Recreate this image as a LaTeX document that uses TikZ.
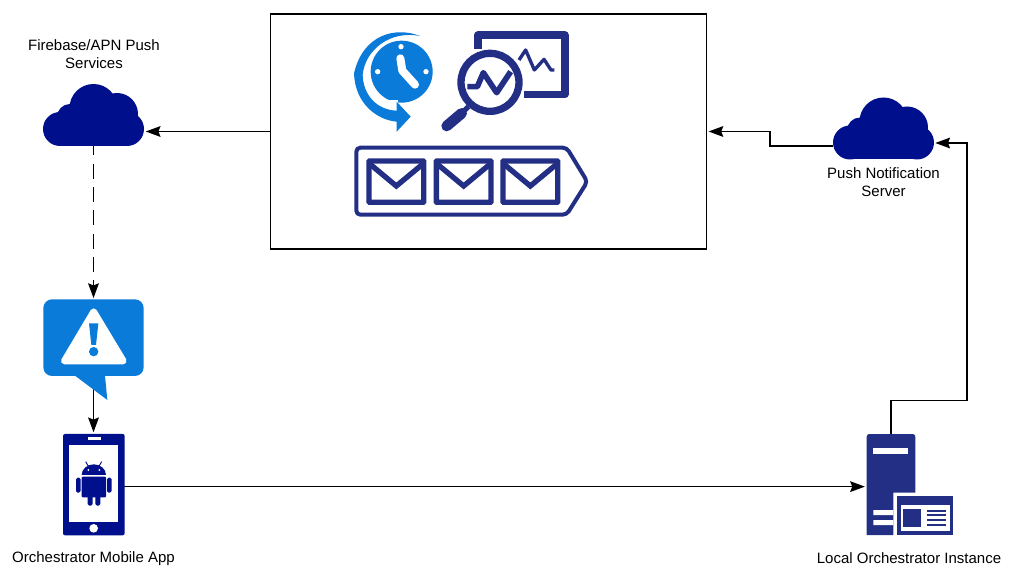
\documentclass[tikz,border=0pt]{standalone}
\usepackage{fontspec}
\setmainfont{Liberation Sans}
\usetikzlibrary{arrows.meta}
\definecolor{cloudblue}{HTML}{000F8C}
\definecolor{iconblue}{HTML}{232F85}
\definecolor{lightblue}{HTML}{0A7BD9}

\tikzset{
    flow/.style={-{Stealth[length=11pt,width=8pt,inset=1.5pt]},line width=1.2pt,shorten >=1pt},
    caption/.style={align=center,font=\fontsize{11.25}{13.5}\selectfont,inner sep=0pt},
    main node/.style={draw=none,inner sep=0pt},
    cloudicon/.pic={
        \fill[cloudblue] (-33.5,14) circle (17);
        \fill[cloudblue] (-23.5,2) circle (13);
        \fill[cloudblue] (0,-7) circle (24);
        \fill[cloudblue] (23.5,-1) circle (21);
        \fill[cloudblue] (33.5,14) circle (17);
        \fill[cloudblue] (-33.5,5) rectangle (33.5,31);
    }
}

\begin{document}
\begin{tikzpicture}[x=0.75pt,y=-0.75pt]
    \useasboundingbox (0,0) rectangle (1009,580);

    \node[draw,line width=1.1pt,minimum width=327pt,minimum height=176pt,inner sep=0pt] (queuebox) at (488.5,131.5) {};
    \node[main node,minimum width=76pt,minimum height=46.5pt] (fcm) at (93.5,115) {};
    \node[main node,minimum width=76pt,minimum height=46.5pt] (pushsrv) at (883.5,128.5) {};
    \node[main node,minimum width=76pt,minimum height=57.5pt] (alert) at (93.5,338) {};
    \node[main node,minimum width=46pt,minimum height=76pt] (phone) at (93.5,484.5) {};
    \node[main node,minimum width=36.5pt,minimum height=76pt] (server) at (890.8,484.5) {};

    \node[caption] (fcmlabel) at (94,54.5) {Firebase/APN Push\\Services};
    \node[caption] (pushlabel) at (883.5,182.5) {Push Notification\\Server};
    \node[caption] (phonelabel) at (93.5,558.5) {Orchestrator Mobile App};
    \node[caption] (serverlabel) at (909,558.5) {Local Orchestrator Instance};

    \coordinate (pushin) at (934,143);
    \coordinate (pushout) at (833,146);
    \coordinate (phoneout) at ([yshift=-1.6pt]phone.east);

    \draw[flow] (queuebox.west) -- (queuebox.west -| fcm.east);
    \draw[flow,dash pattern=on 11.25pt off 6.25pt,dash phase=4.5pt] (fcm.south) -- (alert.north);
    \draw[flow] (alert.south) -- (phone.north);
    \draw[flow] (phoneout) -- (phoneout -| server.west);
    \draw[flow] (server.north) -- ++(0,-33) -- ++(76,0) |- (pushin);
    \draw[flow] (pushout) -- ++(-63,0) |- (queuebox.east);

    \pic at (fcm) {cloudicon};
    \pic at (pushsrv) {cloudicon};

    % clock, chart and queue
    \begin{scope}[shift={(340,20)},scale=1/3]
        \fill[lightblue] (185,155) circle (93);
        \fill[white] (183,80) circle (8) (113,155) circle (8) (258,155) circle (8);
        \draw[white,line width=6pt,line cap=round,line join=round] (181,115) -- (187,152) -- (225,194);
        \fill[white] (120,262) -- (175,262) -- (175,240) -- (120,240) -- cycle;
        \fill[lightblue] (240,48) .. controls (170,20) and (70,40) .. (42,160)
            .. controls (45,250) and (110,300) .. (170,305) -- (170,335) -- (212,290) -- (170,245)
            -- (170,272) .. controls (110,270) and (70,225) .. (68,165)
            .. controls (75,90) and (150,30) .. (240,48) -- cycle;

        \draw[iconblue,line width=5.75pt,line join=round] (552,224) -- (674,224) -- (674,46) -- (413,46) -- (413,86);
        \draw[iconblue,line width=2.5pt,line join=round] (537,120) -- (557,90) -- (583,150) -- (612,118) -- (633,150) -- (643,150);
        \draw[iconblue,line width=5.5pt] (450,187) circle (87);
        \draw[iconblue,line width=4.25pt,line join=round] (382,200) -- (412,200) -- (430,158) -- (470,218) -- (512,155);
        \draw[iconblue,line width=3.75pt] (385,260) -- (365,280);
        \draw[iconblue,line width=8pt,line cap=round] (365,280) -- (320,318);

        \draw[iconblue,line width=3pt,rounded corners=3pt] (49,383) -- (680,383) -- (742,485) -- (680,584) -- (49,584) -- cycle;
        \foreach \envx in {79,281,481}{
            \draw[iconblue,line width=4pt,rounded corners=0.5pt] (\envx+8,423) rectangle (\envx+172,547);
            \draw[iconblue,line width=4pt] (\envx+8,430) -- (\envx+90,498) -- (\envx+172,430);
        }
    \end{scope}

    % alert bubble and phone
    \begin{scope}[shift={(20,280)},scale=1/3]
        \fill[lightblue,rounded corners=6.5pt] (70,58) rectangle (371,288);
        \fill[lightblue] (165,287) -- (262,360) -- (255,287) -- cycle;
        \filldraw[white,line width=5pt,line join=round] (221,95) -- (133,243) -- (310,243) -- cycle;
        \fill[lightblue] (207,130) -- (235,130) -- (228,195) -- (214,195) -- cycle;
        \fill[lightblue] (221,215) circle (14);

        \fill[cloudblue,rounded corners=1.5pt] (129,462) rectangle (314,766);
        \fill[white] (148,496) rectangle (294,725);
        \fill[white] (203,472) rectangle (243,480);
        \fill[white] (221,745) circle (13);
        \fill[cloudblue,rounded corners=0.8pt] (185,590) rectangle (258,652);
        \fill[cloudblue] (185,585) arc[start angle=180,end angle=0,x radius=36.5,y radius=-32] -- cycle;
        \fill[white] (205,570) circle (3) (238,570) circle (3);
        \draw[cloudblue,line width=0.7pt] (197,545) -- (207,562) (245,545) -- (235,562);
        \foreach \armx in {168,261}{
            \fill[cloudblue,rounded corners=1.2pt] (\armx,593) rectangle (\armx+14,638);
        }
        \foreach \legx in {203,226}{
            \fill[cloudblue,rounded corners=1.2pt] (\legx,640) rectangle (\legx+15,677);
        }
    \end{scope}

    % server and window
    \begin{scope}[shift={(840,420)},scale=1/3]
        \fill[iconblue] (80,345) [rounded corners=2pt] -- (80,42) -- (226,42) [sharp corners] -- (226,218) -- (160,218) -- (160,345) -- cycle;
        \fill[white] (100,85) rectangle (203,101);
        \fill[white] (100,270) rectangle (160,285) (100,300) rectangle (160,315);
        \fill[iconblue] (170,228) rectangle (340,345);
        \fill[white] (182,255) rectangle (330,333);
        \fill[iconblue] (190,268) rectangle (243,320);
        \foreach \liney in {272,286,300,316}{
            \draw[iconblue,line width=1.5pt] (262,\liney) -- (318,\liney);
        }
    \end{scope}
\end{tikzpicture}
\end{document}
